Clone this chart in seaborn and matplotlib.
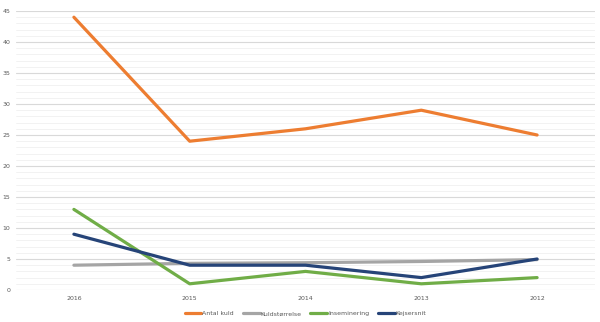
import matplotlib
matplotlib.use("Agg")
import matplotlib.pyplot as plt
import seaborn as sns
import pandas as pd
from matplotlib.ticker import MultipleLocator

years = ["2016", "2015", "2014", "2013", "2012"]
antal_kuld = [44, 24, 26, 29, 25]
kuldstorrelse = [4.0, 4.3, 4.4, 4.6, 4.9]
inseminering = [13, 1, 3, 1, 2]
kejsersnit = [9, 4, 4, 2, 5]

series = {
    "Antal kuld": antal_kuld,
    "Kuldstørrelse": kuldstorrelse,
    "Inseminering": inseminering,
    "Kejsersnit": kejsersnit,
}
colors = ["#ED7D31", "#A5A5A5", "#70AD47", "#264478"]

rows = []
for name, vals in series.items():
    for y, v in zip(years, vals):
        rows.append({"year": y, "value": v, "series": name})
df = pd.DataFrame(rows)

sns.set_theme(style="white")
fig = plt.figure(figsize=(6.0, 3.22), dpi=100)
ax = fig.add_axes([16/600, 32/322, 579/600, 279/322])

sns.lineplot(data=df, x="year", y="value", hue="series", palette=colors,
             sort=False, linewidth=2.3, ax=ax, legend=True)

ax.set_xlim(-0.5, 4.5)
ax.set_ylim(0, 45)
ax.yaxis.set_major_locator(MultipleLocator(5))
ax.yaxis.set_minor_locator(MultipleLocator(1))
ax.grid(which="major", axis="y", color="#d9d9d9", linewidth=0.8)
ax.grid(which="minor", axis="y", color="#f0f0f0", linewidth=0.6)
ax.set_axisbelow(True)
for s in ax.spines.values():
    s.set_visible(False)
ax.tick_params(axis="both", which="both", length=0, labelsize=4.5, colors="#595959")
ax.tick_params(axis="y", pad=4)
ax.tick_params(axis="x", pad=4)
ax.set_xlabel("")
ax.set_ylabel("")

handles, labels = ax.get_legend_handles_labels()
ax.legend(handles, labels, loc="lower center", bbox_to_anchor=(0.5, -0.115),
          ncol=4, frameon=False, fontsize=4.5, handlelength=2.7,
          columnspacing=1.4, handletextpad=0.15, labelcolor="#595959")

fig.savefig("out.png", dpi=100, facecolor="white")
